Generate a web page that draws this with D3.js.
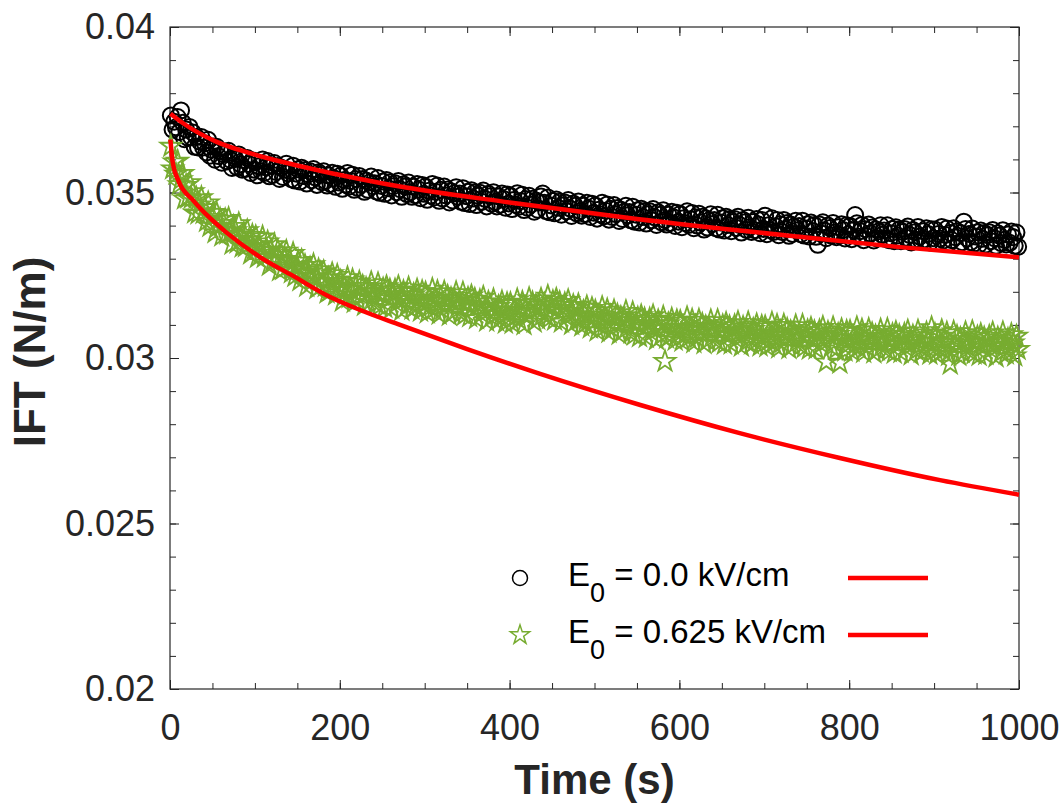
<!DOCTYPE html>
<html lang="en">
<head>
<meta charset="utf-8">
<title>IFT vs time</title>
<script src="https://cdn.jsdelivr.net/npm/d3@7"></script>
<style>
  body { margin: 0; background: #fff; }
  svg text { font-family: "Liberation Sans", Arial, Helvetica, sans-serif; }
</style>
</head>
<body>
<svg id="chart" width="1060" height="803"></svg>
<script>
// measured samples, one every 2 s starting at t = 1 s
const sampleStart = 1, sampleStep = 2;

// E0 = 0.0 kV/cm (N/m), 10 values per 20 s
const ift00 = [
  0.03733, 0.03690, 0.03714, 0.03697, 0.03728, 0.03683, 0.03748, 0.03711, 0.03661, 0.03690,
  0.03666, 0.03698, 0.03667, 0.03681, 0.03638, 0.03668, 0.03636, 0.03654, 0.03668, 0.03636,
  0.03649, 0.03621, 0.03659, 0.03611, 0.03629, 0.03639, 0.03599, 0.03638, 0.03610, 0.03625,
  0.03590, 0.03616, 0.03623, 0.03594, 0.03626, 0.03599, 0.03574, 0.03610, 0.03601, 0.03576,
  0.03615, 0.03585, 0.03569, 0.03598, 0.03571, 0.03604, 0.03586, 0.03559, 0.03597, 0.03569,
  0.03592, 0.03552, 0.03579, 0.03565, 0.03600, 0.03559, 0.03576, 0.03595, 0.03549, 0.03582,
  0.03553, 0.03589, 0.03562, 0.03580, 0.03541, 0.03575, 0.03547, 0.03569, 0.03587, 0.03558,
  0.03565, 0.03540, 0.03581, 0.03536, 0.03557, 0.03570, 0.03533, 0.03575, 0.03550, 0.03568,
  0.03527, 0.03555, 0.03564, 0.03537, 0.03571, 0.03546, 0.03523, 0.03561, 0.03554, 0.03531,
  0.03564, 0.03535, 0.03521, 0.03551, 0.03526, 0.03560, 0.03543, 0.03517, 0.03557, 0.03530,
  0.03551, 0.03511, 0.03538, 0.03524, 0.03559, 0.03518, 0.03535, 0.03554, 0.03508, 0.03541,
  0.03514, 0.03550, 0.03523, 0.03541, 0.03502, 0.03536, 0.03508, 0.03530, 0.03548, 0.03519,
  0.03528, 0.03503, 0.03544, 0.03499, 0.03520, 0.03533, 0.03496, 0.03538, 0.03513, 0.03531,
  0.03491, 0.03519, 0.03528, 0.03501, 0.03535, 0.03510, 0.03487, 0.03525, 0.03518, 0.03495,
  0.03530, 0.03501, 0.03487, 0.03517, 0.03492, 0.03526, 0.03509, 0.03483, 0.03523, 0.03496,
  0.03518, 0.03478, 0.03505, 0.03491, 0.03526, 0.03485, 0.03502, 0.03521, 0.03475, 0.03508,
  0.03482, 0.03518, 0.03491, 0.03509, 0.03470, 0.03504, 0.03476, 0.03498, 0.03516, 0.03487,
  0.03497, 0.03472, 0.03513, 0.03468, 0.03489, 0.03502, 0.03465, 0.03507, 0.03482, 0.03500,
  0.03462, 0.03490, 0.03499, 0.03472, 0.03506, 0.03481, 0.03458, 0.03496, 0.03489, 0.03466,
  0.03501, 0.03472, 0.03458, 0.03488, 0.03463, 0.03497, 0.03480, 0.03454, 0.03494, 0.03467,
  0.03490, 0.03450, 0.03477, 0.03463, 0.03498, 0.03457, 0.03474, 0.03493, 0.03447, 0.03480,
  0.03454, 0.03490, 0.03463, 0.03481, 0.03442, 0.03476, 0.03448, 0.03470, 0.03488, 0.03497,
  0.03469, 0.03444, 0.03485, 0.03440, 0.03461, 0.03474, 0.03437, 0.03479, 0.03454, 0.03472,
  0.03433, 0.03461, 0.03470, 0.03443, 0.03477, 0.03452, 0.03429, 0.03467, 0.03460, 0.03437,
  0.03473, 0.03444, 0.03430, 0.03460, 0.03435, 0.03469, 0.03452, 0.03426, 0.03466, 0.03439,
  0.03461, 0.03421, 0.03448, 0.03434, 0.03469, 0.03428, 0.03445, 0.03464, 0.03418, 0.03451,
  0.03426, 0.03462, 0.03435, 0.03453, 0.03414, 0.03448, 0.03420, 0.03442, 0.03460, 0.03431,
  0.03441, 0.03416, 0.03457, 0.03412, 0.03433, 0.03446, 0.03409, 0.03451, 0.03426, 0.03444,
  0.03406, 0.03434, 0.03443, 0.03416, 0.03450, 0.03425, 0.03402, 0.03440, 0.03433, 0.03410,
  0.03446, 0.03417, 0.03403, 0.03433, 0.03408, 0.03442, 0.03425, 0.03399, 0.03439, 0.03412,
  0.03435, 0.03395, 0.03422, 0.03408, 0.03443, 0.03402, 0.03419, 0.03438, 0.03392, 0.03425,
  0.03400, 0.03436, 0.03409, 0.03427, 0.03388, 0.03422, 0.03394, 0.03416, 0.03434, 0.03405,
  0.03417, 0.03392, 0.03433, 0.03388, 0.03409, 0.03422, 0.03385, 0.03427, 0.03402, 0.03420,
  0.03383, 0.03411, 0.03420, 0.03393, 0.03427, 0.03402, 0.03379, 0.03417, 0.03410, 0.03387,
  0.03424, 0.03395, 0.03381, 0.03411, 0.03386, 0.03420, 0.03403, 0.03377, 0.03417, 0.03390,
  0.03430, 0.03374, 0.03401, 0.03387, 0.03422, 0.03381, 0.03398, 0.03417, 0.03371, 0.03404,
  0.03381, 0.03417, 0.03390, 0.03408, 0.03369, 0.03403, 0.03375, 0.03397, 0.03415, 0.03386,
  0.03399, 0.03374, 0.03415, 0.03370, 0.03391, 0.03404, 0.03367, 0.03409, 0.03384, 0.03402,
  0.03366, 0.03342, 0.03403, 0.03376, 0.03410, 0.03385, 0.03362, 0.03400, 0.03393, 0.03370,
  0.03408, 0.03379, 0.03365, 0.03395, 0.03370, 0.03404, 0.03387, 0.03361, 0.03401, 0.03374,
  0.03399, 0.03359, 0.03386, 0.03432, 0.03407, 0.03366, 0.03383, 0.03402, 0.03356, 0.03389,
  0.03367, 0.03403, 0.03376, 0.03394, 0.03355, 0.03389, 0.03361, 0.03383, 0.03401, 0.03372,
  0.03385, 0.03360, 0.03401, 0.03356, 0.03377, 0.03390, 0.03353, 0.03395, 0.03370, 0.03388,
  0.03353, 0.03381, 0.03390, 0.03363, 0.03397, 0.03372, 0.03349, 0.03387, 0.03380, 0.03357,
  0.03396, 0.03367, 0.03353, 0.03383, 0.03358, 0.03392, 0.03375, 0.03349, 0.03389, 0.03362,
  0.03388, 0.03348, 0.03375, 0.03361, 0.03396, 0.03355, 0.03372, 0.03391, 0.03345, 0.03378,
  0.03356, 0.03392, 0.03365, 0.03383, 0.03344, 0.03378, 0.03350, 0.03412, 0.03390, 0.03361,
  0.03375, 0.03350, 0.03391, 0.03346, 0.03367, 0.03380, 0.03343, 0.03385, 0.03360, 0.03378,
  0.03343, 0.03371, 0.03380, 0.03353, 0.03387, 0.03362, 0.03339, 0.03377, 0.03370, 0.03347,
  0.03386, 0.03357, 0.03343, 0.03373, 0.03348, 0.03382, 0.03365, 0.03339, 0.03379, 0.03336
];

// E0 = 0.625 kV/cm (N/m), 10 values per 20 s
const ift0625 = [
  0.03640, 0.03572, 0.03593, 0.03556, 0.03595, 0.03524, 0.03539, 0.03558, 0.03481, 0.03522,
  0.03484, 0.03530, 0.03483, 0.03503, 0.03439, 0.03484, 0.03436, 0.03463, 0.03485, 0.03437,
  0.03455, 0.03413, 0.03469, 0.03398, 0.03425, 0.03440, 0.03379, 0.03438, 0.03397, 0.03420,
  0.03369, 0.03407, 0.03418, 0.03375, 0.03422, 0.03382, 0.03344, 0.03398, 0.03385, 0.03348,
  0.03406, 0.03359, 0.03336, 0.03377, 0.03337, 0.03385, 0.03357, 0.03315, 0.03371, 0.03328,
  0.03367, 0.03304, 0.03342, 0.03317, 0.03366, 0.03304, 0.03326, 0.03351, 0.03280, 0.03326,
  0.03293, 0.03343, 0.03301, 0.03325, 0.03264, 0.03313, 0.03268, 0.03298, 0.03323, 0.03277,
  0.03297, 0.03258, 0.03316, 0.03247, 0.03276, 0.03293, 0.03234, 0.03295, 0.03255, 0.03280,
  0.03217, 0.03258, 0.03272, 0.03232, 0.03282, 0.03245, 0.03210, 0.03267, 0.03257, 0.03223,
  0.03261, 0.03217, 0.03197, 0.03241, 0.03204, 0.03255, 0.03230, 0.03191, 0.03250, 0.03210,
  0.03232, 0.03172, 0.03213, 0.03191, 0.03243, 0.03183, 0.03208, 0.03236, 0.03168, 0.03217,
  0.03177, 0.03230, 0.03190, 0.03217, 0.03159, 0.03210, 0.03168, 0.03201, 0.03228, 0.03185,
  0.03201, 0.03164, 0.03225, 0.03158, 0.03190, 0.03209, 0.03153, 0.03216, 0.03179, 0.03206,
  0.03151, 0.03192, 0.03206, 0.03166, 0.03216, 0.03179, 0.03144, 0.03201, 0.03191, 0.03157,
  0.03212, 0.03168, 0.03148, 0.03192, 0.03155, 0.03206, 0.03181, 0.03142, 0.03201, 0.03161,
  0.03197, 0.03137, 0.03178, 0.03156, 0.03208, 0.03148, 0.03173, 0.03201, 0.03133, 0.03182,
  0.03147, 0.03200, 0.03160, 0.03187, 0.03129, 0.03180, 0.03138, 0.03171, 0.03198, 0.03155,
  0.03173, 0.03136, 0.03197, 0.03130, 0.03162, 0.03181, 0.03125, 0.03188, 0.03151, 0.03178,
  0.03119, 0.03160, 0.03174, 0.03134, 0.03184, 0.03147, 0.03112, 0.03169, 0.03159, 0.03125,
  0.03176, 0.03132, 0.03112, 0.03156, 0.03119, 0.03170, 0.03145, 0.03106, 0.03165, 0.03125,
  0.03165, 0.03105, 0.03146, 0.03124, 0.03176, 0.03116, 0.03141, 0.03169, 0.03101, 0.03150,
  0.03127, 0.03180, 0.03140, 0.03167, 0.03109, 0.03160, 0.03118, 0.03151, 0.03178, 0.03135,
  0.03163, 0.03126, 0.03187, 0.03120, 0.03152, 0.03171, 0.03115, 0.03178, 0.03141, 0.03168,
  0.03109, 0.03150, 0.03164, 0.03124, 0.03174, 0.03137, 0.03102, 0.03159, 0.03149, 0.03115,
  0.03161, 0.03117, 0.03097, 0.03141, 0.03104, 0.03155, 0.03130, 0.03091, 0.03150, 0.03110,
  0.03142, 0.03082, 0.03123, 0.03101, 0.03153, 0.03093, 0.03118, 0.03146, 0.03078, 0.03127,
  0.03090, 0.03143, 0.03103, 0.03130, 0.03072, 0.03123, 0.03081, 0.03114, 0.03141, 0.03098,
  0.03113, 0.03076, 0.03137, 0.03070, 0.03102, 0.03121, 0.03065, 0.03128, 0.03091, 0.03118,
  0.03063, 0.03104, 0.03118, 0.03078, 0.03128, 0.03091, 0.03056, 0.03113, 0.03103, 0.03069,
  0.03124, 0.02990, 0.03060, 0.03104, 0.03067, 0.03118, 0.03093, 0.03054, 0.03113, 0.03073,
  0.03111, 0.03051, 0.03092, 0.03070, 0.03122, 0.03062, 0.03087, 0.03115, 0.03047, 0.03096,
  0.03062, 0.03115, 0.03075, 0.03102, 0.03044, 0.03095, 0.03053, 0.03086, 0.03113, 0.03070,
  0.03090, 0.03053, 0.03114, 0.03047, 0.03079, 0.03098, 0.03042, 0.03105, 0.03068, 0.03095,
  0.03043, 0.03084, 0.03098, 0.03058, 0.03108, 0.03071, 0.03036, 0.03093, 0.03083, 0.03049,
  0.03107, 0.03063, 0.03043, 0.03087, 0.03050, 0.03101, 0.03076, 0.03037, 0.03096, 0.03056,
  0.03095, 0.03035, 0.03076, 0.03054, 0.03106, 0.03046, 0.03071, 0.03099, 0.03031, 0.03080,
  0.03047, 0.03100, 0.03060, 0.03087, 0.03029, 0.03080, 0.03038, 0.03071, 0.03098, 0.03055,
  0.03075, 0.03038, 0.03099, 0.03032, 0.03064, 0.03083, 0.03027, 0.03090, 0.03053, 0.03080,
  0.03028, 0.03069, 0.03083, 0.03043, 0.03093, 0.03056, 0.02988, 0.03078, 0.03068, 0.03034,
  0.03092, 0.03048, 0.03028, 0.03072, 0.02985, 0.03086, 0.03061, 0.03022, 0.03081, 0.03041,
  0.03081, 0.03021, 0.03062, 0.03040, 0.03092, 0.03032, 0.03057, 0.03085, 0.03017, 0.03066,
  0.03034, 0.03087, 0.03047, 0.03074, 0.03016, 0.03067, 0.03025, 0.03058, 0.03085, 0.03042,
  0.03063, 0.03026, 0.03087, 0.03020, 0.03052, 0.03071, 0.03015, 0.03078, 0.03041, 0.03068,
  0.03017, 0.03058, 0.03072, 0.03032, 0.03082, 0.03045, 0.03010, 0.03067, 0.03057, 0.03023,
  0.03082, 0.03038, 0.03018, 0.03062, 0.03025, 0.03076, 0.03051, 0.03012, 0.03092, 0.03031,
  0.03072, 0.03012, 0.03053, 0.03031, 0.03083, 0.03023, 0.03048, 0.03076, 0.03008, 0.02982,
  0.03026, 0.03079, 0.03039, 0.03066, 0.03008, 0.03059, 0.03017, 0.03050, 0.03077, 0.03034,
  0.03056, 0.03019, 0.03080, 0.03013, 0.03045, 0.03064, 0.03008, 0.03071, 0.03034, 0.03061,
  0.03011, 0.03052, 0.03066, 0.03026, 0.03076, 0.03039, 0.03004, 0.03061, 0.03051, 0.03017,
  0.03077, 0.03033, 0.03013, 0.03057, 0.03020, 0.03071, 0.03046, 0.03007, 0.03066, 0.03026
];

const fit00Time = [0.5, 15, 55, 94, 133, 173, 212, 271, 400, 550, 742, 860, 1000];
const fit00Val  = [0.03738, 0.03710, 0.03653, 0.03619, 0.03592, 0.03568, 0.03547, 0.03518, 0.03470, 0.03420, 0.03366, 0.03335, 0.03304];
const fit0625Time = [0.5, 3, 10, 27, 47, 67, 106, 145, 185, 224, 271, 350, 436, 554, 671, 789, 907, 1000];
const fit0625Val  = [0.03660, 0.03595, 0.03535, 0.03477, 0.03423, 0.03378, 0.03305, 0.03248, 0.03189, 0.03145, 0.03100, 0.03027, 0.02952, 0.02858, 0.02773, 0.02698, 0.02631, 0.02587];

const xMajor = [0, 200, 400, 600, 800, 1000];
const yMajor = [0.02, 0.025, 0.03, 0.035, 0.04];
const yLabels = ["0.02", "0.025", "0.03", "0.035", "0.04"];
const legendLabels = [" = 0.0 kV/cm", " = 0.625 kV/cm"];

const axisColor = "#262626";
const green = "#77AC30";

const svg = d3.select("#chart");
const x = d3.scaleLinear().domain([0, 1000]).range([170, 1019]);
const y = d3.scaleLinear().domain([0.02, 0.04]).range([689, 27]);
const xMinor = d3.range(0, 1001, 50);
const yMinor = d3.range(0, 21).map(i => 0.02 + i * 0.001);

// ticks on all four sides, pointing inward
function addAxis(axis, tr, withLabels) {
  const g = svg.append("g").attr("transform", tr).call(axis);
  g.select(".domain").remove();
  g.selectAll("line").attr("stroke", axisColor).attr("stroke-width", 1);
  g.selectAll("text").attr("fill", axisColor).attr("font-size", 36)
    .attr("font-family", "Liberation Sans, Arial, sans-serif");
  if (!withLabels) g.selectAll("text").remove();
  return g;
}
addAxis(d3.axisBottom(x).tickValues(xMinor).tickSize(-6), "translate(0,689)", false);
addAxis(d3.axisBottom(x).tickValues(xMajor).tickSize(-9).tickPadding(25).tickFormat(d3.format("d")), "translate(0,689)", true);
addAxis(d3.axisTop(x).tickValues(xMinor).tickSize(-6), "translate(0,27)", false);
addAxis(d3.axisTop(x).tickValues(xMajor).tickSize(-9), "translate(0,27)", false);
addAxis(d3.axisLeft(y).tickValues(yMinor).tickSize(-6), "translate(170,0)", false);
addAxis(d3.axisLeft(y).tickValues(yMajor).tickSize(-9).tickPadding(15).tickFormat((d, i) => yLabels[i]), "translate(170,0)", true);
addAxis(d3.axisRight(y).tickValues(yMinor).tickSize(-6), "translate(1019,0)", false);
addAxis(d3.axisRight(y).tickValues(yMajor).tickSize(-9), "translate(1019,0)", false);

svg.append("rect").attr("x", 170).attr("y", 27).attr("width", 849).attr("height", 662)
  .attr("fill", "none").attr("stroke", axisColor).attr("stroke-width", 1.2);

const tAt = i => sampleStart + i * sampleStep;

svg.append("g").selectAll("circle").data(ift00).join("circle")
  .attr("cx", (d, i) => x(tAt(i))).attr("cy", d => y(d)).attr("r", 8)
  .attr("fill", "none").attr("stroke", "#000").attr("stroke-width", 2);

const star = d3.symbol(d3.symbolStar, 135);
svg.append("g").selectAll("path").data(ift0625).join("path")
  .attr("d", star).attr("transform", (d, i) => `translate(${x(tAt(i))},${y(d)})`)
  .attr("fill", "none").attr("stroke", green).attr("stroke-width", 1.8);

const fitLine = d3.line().x(d => x(d[0])).y(d => y(d[1])).curve(d3.curveMonotoneX);
[[fit00Time, fit00Val], [fit0625Time, fit0625Val]].forEach(([ts, vs]) => {
  svg.append("path").datum(ts.map((t, i) => [t, vs[i]]))
    .attr("d", fitLine).attr("fill", "none").attr("stroke", "#FF0000").attr("stroke-width", 4.5);
});

// axis titles
svg.append("text").attr("x", 594.5).attr("y", 794).attr("text-anchor", "middle")
  .attr("font-size", 42).attr("font-weight", "bold").attr("fill", axisColor).text("Time (s)");
svg.append("text").attr("transform", "translate(45,352) rotate(-90)").attr("text-anchor", "middle")
  .attr("font-size", 44).attr("font-weight", "bold").attr("fill", axisColor).text("IFT (N/m)");

// legend
const legendY = [578, 635];
const legendStar = d3.symbol(d3.symbolStar, 115);
svg.append("circle").attr("cx", 520).attr("cy", legendY[0]).attr("r", 7.5)
  .attr("fill", "none").attr("stroke", "#000").attr("stroke-width", 1.5);
svg.append("path").attr("d", legendStar).attr("transform", `translate(520,${legendY[1]})`)
  .attr("fill", "none").attr("stroke", green).attr("stroke-width", 1.5);
legendLabels.forEach((lab, i) => {
  const t = svg.append("text").attr("x", 568).attr("y", legendY[i] + 8).attr("font-size", 33).attr("fill", "#000");
  t.append("tspan").text("E");
  t.append("tspan").attr("font-size", 27).attr("dy", 16).text("0");
  t.append("tspan").attr("dy", -16).text(lab);
  svg.append("line").attr("x1", 848).attr("x2", 928).attr("y1", legendY[i]).attr("y2", legendY[i])
    .attr("stroke", "#FF0000").attr("stroke-width", 4.5);
});
</script>
</body>
</html>
